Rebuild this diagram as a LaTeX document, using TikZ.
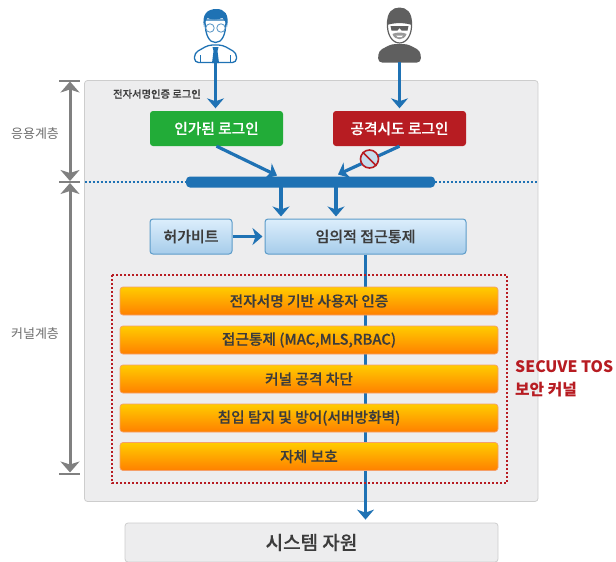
\documentclass[tikz,border=0pt]{standalone}
\usepackage{fontspec}
\setmainfont{Noto Sans CJK KR}
\newfontfamily\midfont[FakeBold=0.3]{Noto Sans CJK KR Medium}
\usetikzlibrary{arrows.meta, calc, positioning}
\definecolor{flowblue}{HTML}{1F72B4}
\definecolor{panelgray}{HTML}{EDEDEE}
\definecolor{rimgray}{HTML}{CDCDCD}
\definecolor{dimgray}{HTML}{808080}
\definecolor{loginred}{HTML}{B71C22}
\definecolor{logingreen}{HTML}{22AC38}
\definecolor{darktext}{HTML}{3C3C3C}
\definecolor{thugray}{HTML}{5F5F5F}
\definecolor{skytop}{HTML}{DCEEFC}
\definecolor{skylow}{HTML}{A6CCEA}
\definecolor{skyrim}{HTML}{5D9CC9}
\definecolor{ambertop}{HTML}{FFCC00}
\definecolor{amberlow}{HTML}{FF8000}
\definecolor{amberrim}{HTML}{F5A06A}
\tikzset{
    flow/.style={flowblue, line width=3.2pt, -{Stealth[length=10pt,width=17pt,inset=3pt]}},
    dimline/.style={dimgray, line width=3pt, {Stealth[length=11pt,width=19pt,inset=3pt]}-{Stealth[length=11pt,width=19pt,inset=3pt]}},
    tickline/.style={dimgray, line width=2pt},
    dotline/.style={line width=1.5pt, dash pattern=on 2pt off 2pt},
    loginbox/.style={rounded corners=3pt, minimum width=133pt, minimum height=35pt, text=white, font=\fontsize{14.7}{16}\midfont},
    bluebox/.style={draw=skyrim, line width=1pt, rounded corners=3pt, top color=skytop, bottom color=skylow, minimum height=35pt, text=darktext, font=\fontsize{15}{17}\midfont},
    barbox/.style={draw=amberrim, line width=.7pt, rounded corners=3pt, top color=ambertop, bottom color=amberlow, minimum width=378pt, minimum height=28pt, text=darktext, font=\fontsize{14.7}{17}\midfont},
    layerlabel/.style={text=dimgray!85!black, font=\fontsize{13}{15}\selectfont},
}
\begin{document}
\begin{tikzpicture}[x=1pt,y=-1pt]
\useasboundingbox (0,0) rectangle (616,562);

% Panel
\fill[panelgray, draw=rimgray, line width=.8pt, rounded corners=3pt] (84.5,80.5) rectangle (538,501.5);

% Layer scale
\coordinate (topA) at (70,80.5);
\coordinate (midA) at (70,182);
\coordinate (lowA) at (70,473.5);
\draw[tickline] (59,80.5) -- (80,80.5);
\draw[tickline] (59,182) -- (80,182);
\draw[tickline] (59,473.5) -- (80,473.5);
\draw[dimline] ($(topA)+(0,1)$) -- ($(midA)+(0,-1)$);
\draw[dimline] ($(midA)+(0,1)$) -- ($(lowA)+(0,-1)$);
\node[layerlabel] (appLayer) at (35,133.5) {응용계층};
\node[layerlabel] (kernelLayer) at (35,334) {커널계층};

% Users
\begin{scope}[shift={(215.5,0)}]
\fill[white, draw=flowblue, line width=1.3pt, rounded corners=4pt] (-21,62.5) -- (-21,53) -- (-7,45) -- (7,45) -- (21,53) -- (21,62.5) -- cycle;
\draw[flowblue, line width=1.3pt] (-15,62.5) -- (-15,55) (15,62.5) -- (15,55);
\fill[flowblue] (-3,47) -- (3,47) -- (2,51) -- (3.5,63) -- (-3.5,63) -- (-2,51) -- cycle;
\draw[flowblue, line width=1.3pt, fill=white] (-10.5,20) .. controls (-10.5,36) and (-6,42.5) .. (0,42.5) .. controls (6,42.5) and (10.5,36) .. (10.5,20) -- cycle;
\fill[flowblue] (-11.5,27) .. controls (-14,14) and (-8,9) .. (1,9) .. controls (9,9) and (14,14) .. (11.5,27) .. controls (10.5,22) and (9,20) .. (7,18) .. controls (2,20) and (-5,20) .. (-8,18) .. controls (-10,20) and (-11,23) .. (-11.5,27) -- cycle;
\draw[flowblue!70, line width=.9pt, fill=white] (-5.5,28) circle (4.2pt) (5.5,28) circle (4.2pt);
\end{scope}
\begin{scope}[shift={(399.5,0)}]
\fill[thugray, rounded corners=4pt] (-21.5,62.5) -- (-21,51) -- (-8,44) -- (8,44) -- (21,51) -- (21.5,62.5) -- cycle;
\fill[white, draw=thugray, line width=1.2pt] (-12,22) .. controls (-13,35) and (-7,43) .. (0,43) .. controls (7,43) and (13,35) .. (12,22) -- cycle;
\fill[thugray] (-12.5,25) .. controls (-13,12) and (-7,7.5) .. (0,7.5) .. controls (7,7.5) and (13,12) .. (12.5,25) .. controls (5,22.5) and (-5,22.5) .. (-12.5,25) -- cycle;
\fill[thugray] (-9,26) -- (9,26) -- (8,30.5) -- (2,30.5) -- (0,28) -- (-2,30.5) -- (-8,30.5) -- cycle;
\fill[gray!80] (-7,34) .. controls (-3,32) and (3,32) .. (7,34) .. controls (5,41) and (-5,41) .. (-7,34) -- cycle;
\fill[white] (-3.5,35.5) -- (3.5,35.5) -- (2,37) -- (-2,37) -- cycle;
\end{scope}
\coordinate (userFoot) at (215.5,60);
\coordinate (thugFoot) at (399.5,62);

% Login boxes
\node[font=\fontsize{10.3}{12}\midfont, text=darktext, anchor=west, inner sep=0pt] (signLogin) at (113,94) {전자서명인증 로그인};
\node[loginbox, fill=logingreen] (okLogin) at (216.5,128.5) {인가된 로그인};
\node[loginbox, fill=loginred] (badLogin) at (399.5,128.5) {공격시도 로그인};

% Merge bar
\draw[flowblue, dotline] (84.5,182) -- (186,182);
\draw[flowblue, dotline] (435,182) -- (538,182);
\fill[flowblue, rounded corners=4pt] (186,176.5) rectangle (435,187.5);
\coordinate (mergeA) at (277,175.5);
\coordinate (mergeB) at (338,174.5);
\coordinate (dropA) at (281,187);
\coordinate (dropB) at (336,187);

\draw[flow] (userFoot) -- ($(okLogin.north)+(-1,-2.5)$);
\draw[flow] (thugFoot) -- ($(badLogin.north)+(0,-2.5)$);
\draw[flow] (okLogin.south) -- (mergeA);
\draw[flow] (badLogin.south) -- (mergeB);

% No entry sign
\node[circle, draw=loginred, line width=1.6pt, fill=flowblue!25, inner sep=0pt, minimum size=18pt] (noEntry) at (369.5,159) {};
\draw[loginred, line width=1.6pt] (noEntry.north west) -- (noEntry.south east);

% Access control
\node[bluebox, minimum width=82pt] (permBit) at (191,236.5) {허가비트};
\node[bluebox, minimum width=201pt] (access) at (365.5,236.5) {임의적 접근통제};
\node[rounded corners=3pt, fill=panelgray, draw=rimgray, line width=.8pt, minimum width=373pt, minimum height=39pt, text=darktext, font=\fontsize{19}{21}\midfont] (sysRes) at (311.5,542.5) {시스템 자원};
\draw[flow, shorten >=2pt] (permBit) -- (access);
\draw[flow, shorten >=2pt] (dropA) -- (dropA |- access.north);
\draw[flow, shorten >=2pt] (dropB) -- (dropB |- access.north);
\draw[flow, shorten >=3pt] (access.south) -- (access.south |- sysRes.north);

% Kernel functions
\draw[loginred, dotline] (112,275) rectangle (507,483);
\foreach \ypos/\barname/\bartext in {301/barSign/전자서명 기반 사용자 인증, 340/barMac/{접근통제 (MAC,MLS,RBAC)}, 379/barBlock/커널 공격 차단, 418/barIds/침입 탐지 및 방어(서버방화벽), 456.5/barSelf/자체 보호} {
    \node[barbox] (\barname) at (309,\ypos) {\bartext};
}
\node[anchor=west, align=left, inner sep=0pt, text=loginred, font=\fontsize{15.8}{23}\selectfont\bfseries] (tosLabel) at (515,378.5) {SECUVE TOS\\보안 커널};
\end{tikzpicture}
\end{document}
